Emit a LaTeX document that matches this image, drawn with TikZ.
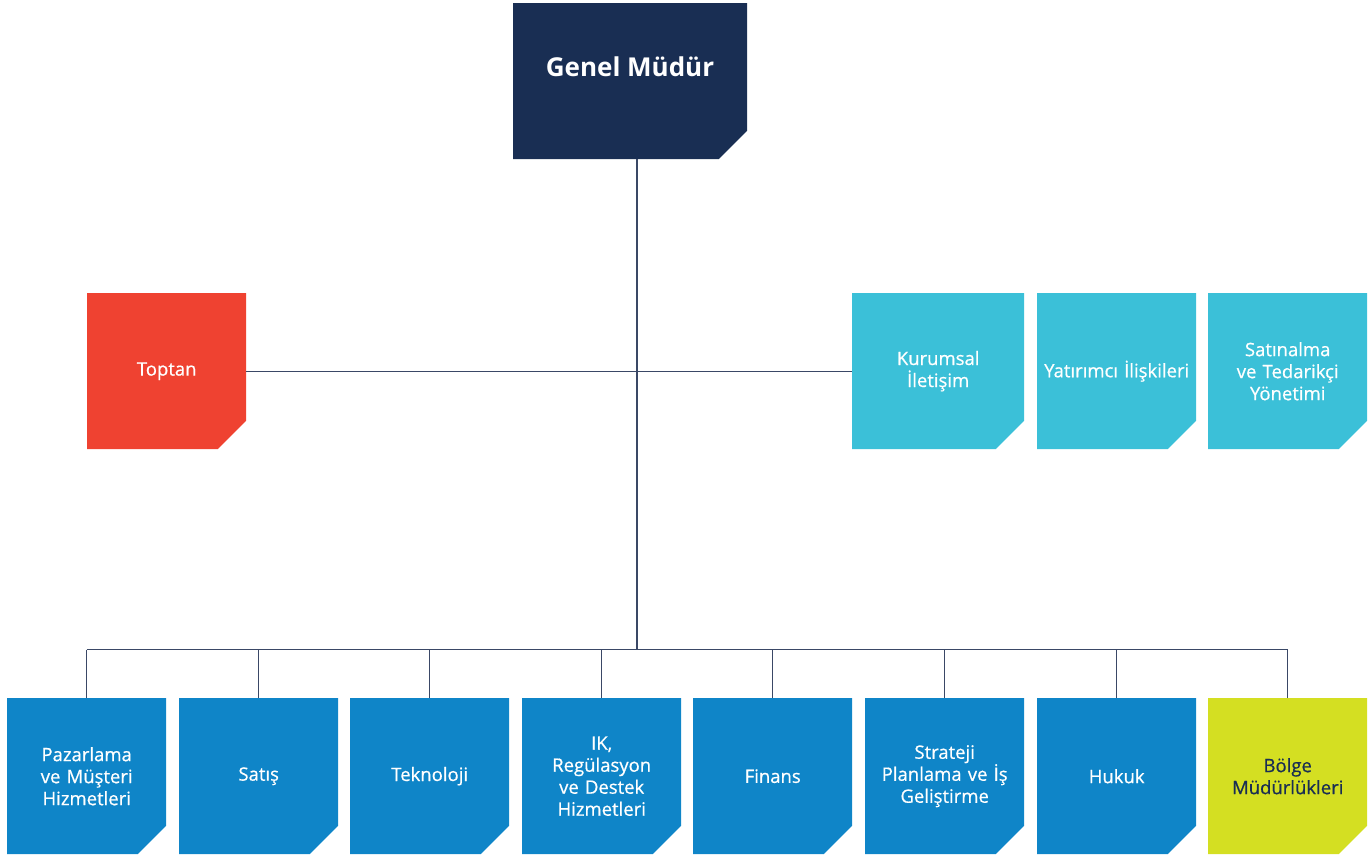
\documentclass[tikz,border=0pt]{standalone}
\usepackage{fontspec}
\setmainfont{Open Sans}
\newfontfamily\boxfont{Open Sans}[FakeBold=0.6]
\definecolor{navy}{HTML}{192E53}
\definecolor{redc}{HTML}{EF4231}
\definecolor{cyanc}{HTML}{3BC0D8}
\definecolor{bluec}{HTML}{0F85C8}
\definecolor{limec}{HTML}{D4DF22}
\definecolor{linec}{HTML}{3A4866}
\tikzset{
  org/.style={anchor=north west, minimum width=159pt, minimum height=156pt, inner sep=0pt,
    text width=156pt, align=center, font=\boxfont\fontsize{18.5}{22}\selectfont, text=white,
    path picture={\fill[#1] (path picture bounding box.north west) -- (path picture bounding box.north east)
      -- ([yshift=28.5pt]path picture bounding box.south east) -- ([xshift=-28.5pt]path picture bounding box.south east)
      -- (path picture bounding box.south west) -- cycle;}},
  conn/.style={draw=linec, line width=1.3pt},
}
\begin{document}
\begin{tikzpicture}[x=1pt,y=-1pt]
\useasboundingbox (0,0) rectangle (1371,859);
% top
\node[org=navy, minimum width=234pt, text width=230pt] (gm) at (513,3) {};
\node[font=\fontsize{26}{30}\selectfont\bfseries, text=white, inner sep=0pt] (gmt) at (630,67) {Genel Müdür};
% middle row
\node[org=redc] (toptan) at (87,293) {Toptan};
\node[org=cyanc, minimum width=172pt, text width=160pt] (kur) at (852,293) {Kurumsal\\İletişim};
\node[org=cyanc] (yat) at (1037,293) {Yatırımcı İlişkileri};
\node[org=cyanc] (sat) at (1208,293) {Satınalma\\ve Tedarikçi\\Yönetimi};
% bottom row
\node[org=bluec] (b1) at (7,698) {Pazarlama\\ve Müşteri\\Hizmetleri};
\node[org=bluec] (b2) at (179,698) {Satış};
\node[org=bluec] (b3) at (350,698) {Teknoloji};
\node[org=bluec] (b4) at (522,698) {IK,\\Regülasyon\\ve Destek\\Hizmetleri};
\node[org=bluec] (b5) at (693,698) {Finans};
\node[org=bluec] (b6) at (865,698) {Strateji\\Planlama ve İş\\Geliştirme};
\node[org=bluec] (b7) at (1037,698) {Hukuk};
\node[org=limec, text=navy] (b8) at (1208,698) {Bölge\\Müdürlükleri};
% connectors
\coordinate (hub) at (637,371);
\coordinate (bus) at (637,649.5);
\draw[conn] (gm.south -| hub) -- (bus);
\draw[conn] (toptan.east) -- (kur.west);
\draw[conn] (b1.north |- bus) -- (b8.north |- bus);
\foreach \b in {b1,b2,b3,b4,b5,b6,b7,b8}{
  \draw[conn] (\b.north) -- (\b.north |- bus);
}
\end{tikzpicture}
\end{document}
